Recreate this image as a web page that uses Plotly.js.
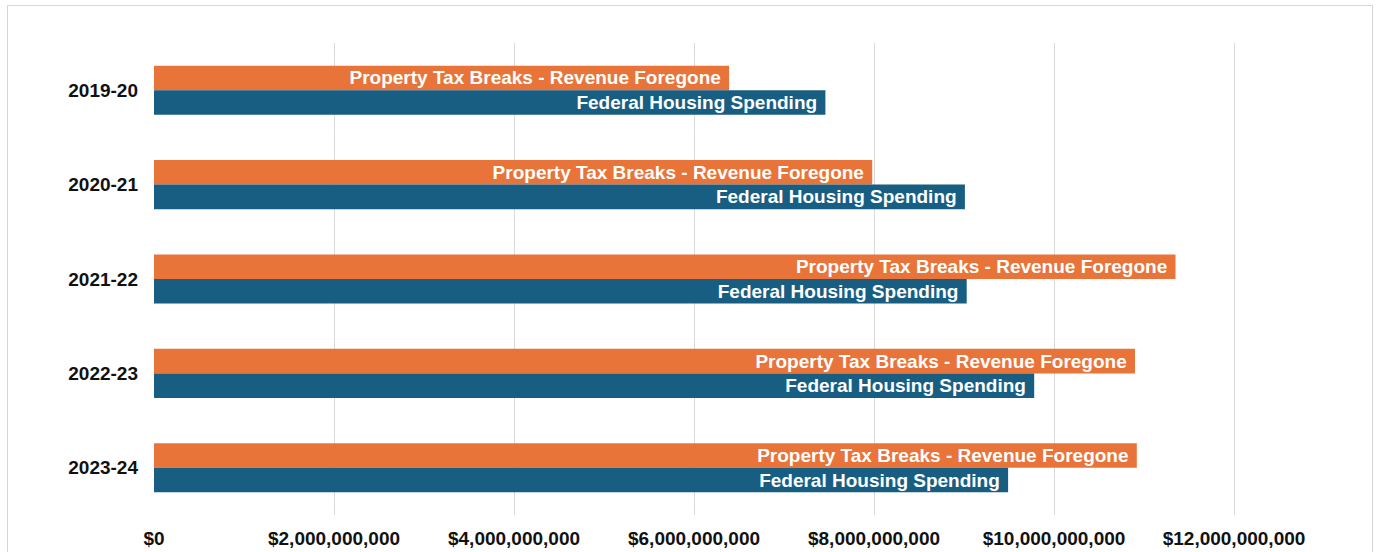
<!DOCTYPE html>
<html>
<head>
<meta charset="utf-8">
<script src="https://cdn.plot.ly/plotly-3.0.1.min.js"></script>
<style>
html,body{margin:0;padding:0;background:#fff;}
#wrap{position:relative;width:1380px;height:552px;}
#frame{position:absolute;left:7px;top:5px;width:1366px;height:560px;border:1px solid #d6d6d6;box-sizing:border-box;pointer-events:none;}
#chart{position:absolute;left:0;top:0;width:1380px;height:552px;}
</style>
</head>
<body>
<div id="wrap"><div id="chart"></div><div id="frame"></div></div>
<script>
const years = ["2019-20", "2020-21", "2021-22", "2022-23", "2023-24"];
const propertyTaxBreaks = [6.39e9, 7.98e9, 11.35e9, 10.9e9, 10.92e9];
const federalHousing = [7.46e9, 9.01e9, 9.03e9, 9.78e9, 9.49e9];
const seriesNames = ["Property Tax Breaks - Revenue Foregone", "Federal Housing Spending"];
const tickVals = [0, 2e9, 4e9, 6e9, 8e9, 10e9, 12e9];
const tickText = ["$0", "$2,000,000,000", "$4,000,000,000", "$6,000,000,000", "$8,000,000,000", "$10,000,000,000", "$12,000,000,000"];

const font = "Liberation Sans, Arial, sans-serif";
function mk(name, vals, color) {
  return {
    type: "bar", orientation: "h", name: name,
    x: vals, y: years,
    marker: {color: color},
    text: vals.map(() => name + "\u00a0"),
    textposition: "inside", insidetextanchor: "end", constraintext: "none",
    textfont: {family: font, size: 19, color: "#ffffff", weight: "bold"},
    hoverinfo: "x+y+name"
  };
}
const data = [
  mk(seriesNames[0], propertyTaxBreaks, "#E8743A"),
  mk(seriesNames[1], federalHousing, "#175E82")
];
const layout = {
  width: 1380, height: 552,
  margin: {l: 154, r: 56, t: 43, b: 37},
  paper_bgcolor: "#ffffff", plot_bgcolor: "#ffffff",
  showlegend: false,
  barmode: "group", bargap: 0.48, bargroupgap: 0,
  xaxis: {
    range: [0, 13e9], tickvals: tickVals, ticktext: tickText,
    showgrid: true, gridcolor: "#d9d9d9", gridwidth: 1, zeroline: false,
    showline: false, ticks: "", ticklabelstandoff: 10,
    tickfont: {family: font, size: 19, color: "#111111", weight: "bold"},
    automargin: false
  },
  yaxis: {
    autorange: "reversed", type: "category",
    showgrid: false, zeroline: false, showline: false, ticks: "",
    ticklabelstandoff: 15,
    tickfont: {family: font, size: 19, color: "#111111", weight: "bold"},
    automargin: false
  }
};
Plotly.newPlot("chart", data, layout, {displayModeBar: false, staticPlot: true});
</script>
</body>
</html>
